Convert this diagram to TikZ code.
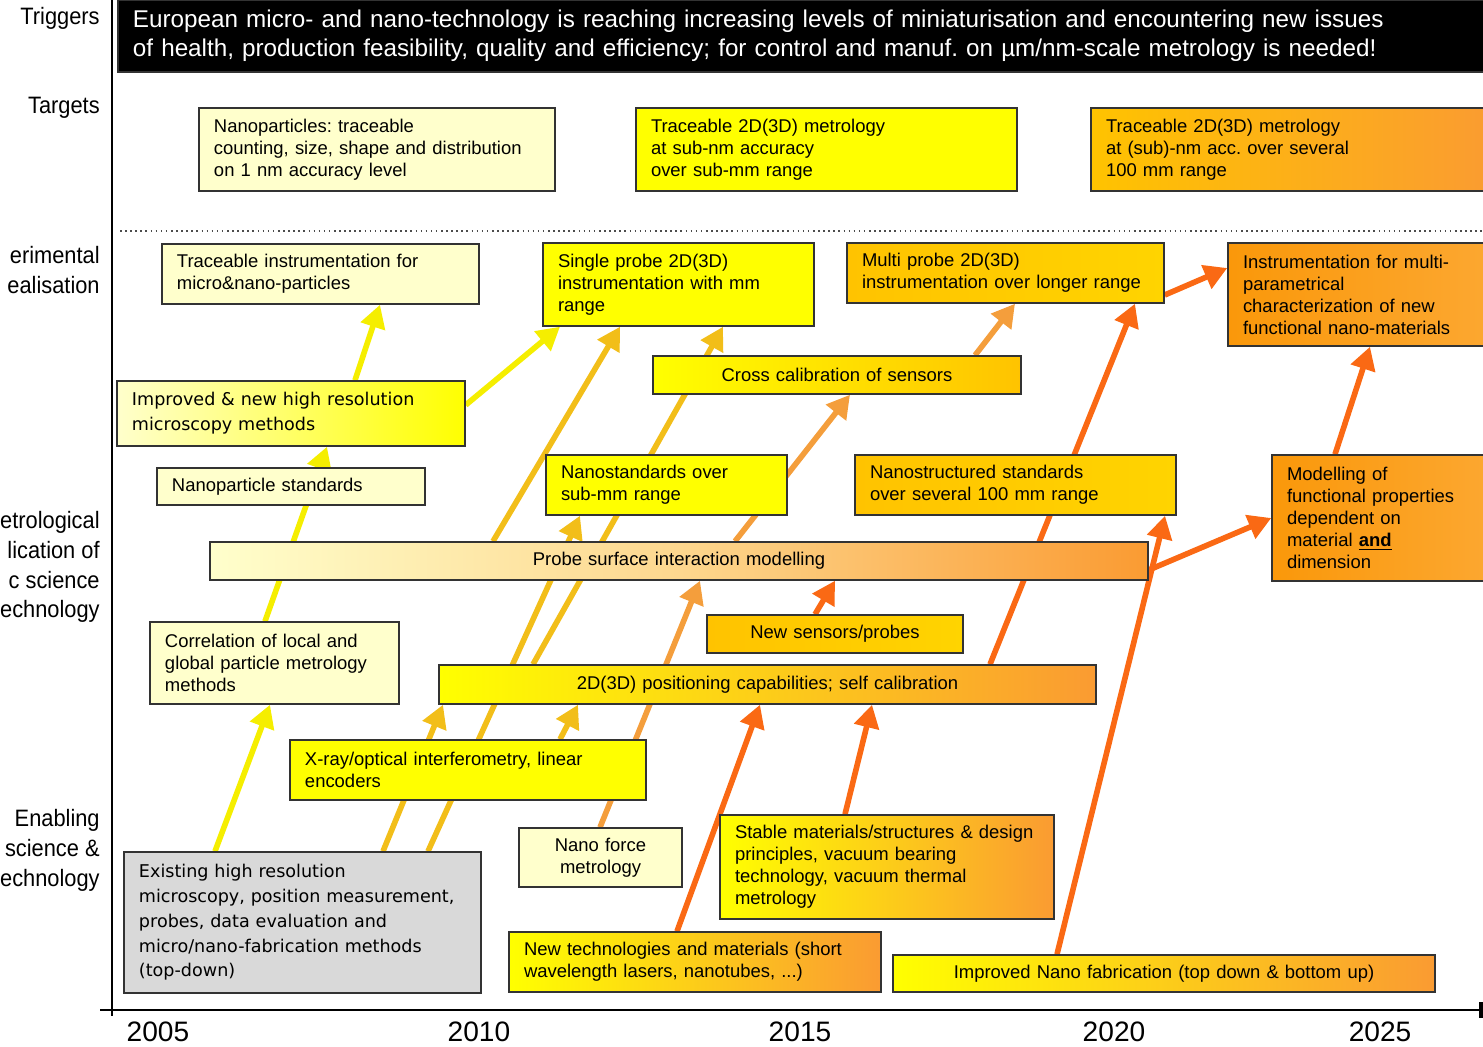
\documentclass[tikz,border=0pt]{standalone}
\usepackage{fontspec}
\setmainfont{Liberation Sans}
\newfontfamily\verdfont{DejaVu Sans}
\newfontfamily\narrowfont{Liberation Sans}[FakeStretch=0.92]
\frenchspacing
\usetikzlibrary{arrows.meta}
\definecolor{pale}{RGB}{255,255,204}
\definecolor{yel}{RGB}{255,255,0}
\definecolor{gold}{RGB}{255,195,0}
\definecolor{goldlt}{RGB}{255,212,0}
\definecolor{orng}{RGB}{250,155,50}
\definecolor{deep}{RGB}{250,152,10}
\definecolor{deeplt}{RGB}{252,168,50}
\definecolor{greybox}{RGB}{217,217,217}
\definecolor{ayel}{RGB}{245,238,0}
\definecolor{agold}{RGB}{242,190,25}
\definecolor{alor}{RGB}{244,158,60}
\definecolor{ador}{RGB}{250,105,20}
\pgfdeclarelayer{bg}
\pgfsetlayers{bg,main}
\tikzset{box/.style={draw=black!80,line width=0.8pt,inner xsep=0.3cm,inner ysep=0pt,align=left,
	   font=\fontsize{10.5}{12.5}\selectfont},
	 verd/.style={font=\verdfont\fontsize{10}{14.1}\selectfont},
	 lbl/.style={anchor=east,align=right,inner sep=0pt,font=\narrowfont\fontsize{13.5}{17}\selectfont},
	 yr/.style={font=\fontsize{16}{19}\selectfont},
	 arr/.style={line width=3.2pt,-{Triangle[length=13pt,width=14pt]}}
	 }
% box from (x1,y1) to (x2,y2), in pixels
\newcommand{\tlbox}[7][]{%
  \pgfmathsetmacro\tlw{(#5-#3)*0.02}%
  \pgfmathsetmacro\tlh{(#6-#4)*0.02}%
  \pgfmathsetmacro\tlt{\tlw-0.6}%
  \node[box,#1,minimum width=\tlw cm,minimum height=\tlh cm,text width=\tlt cm]
    (#2) at ({(#3+#5)/2},{(#4+#6)/2}) {#7};}

\begin{document}
\begin{tikzpicture}[x=0.02cm,y=-0.02cm]
	\useasboundingbox (0,0) rectangle (1483,1047);
	% axes
	\draw[line width=1pt] (112,0) -- (112,1016);
	\draw[line width=1.2pt] (100,1010) -- (1483,1010);
	\draw[line width=2pt] (1481,1002) -- (1481,1018);
	\draw[dotted,line width=0.9pt,black!70] (120,231) -- (1483,231);
	% row labels
	\node[lbl] (ltrig) at (100,18) {Triggers};
	\node[lbl] (ltarg) at (100,108) {Targets};
	\node[lbl] (lexp) at (100,270) {erimental\\ealisation};
	\node[lbl] (lmet) at (100,567) {etrological\\lication of\\c science\\echnology};
	\node[lbl] (lena) at (100,850) {Enabling\\science \&\\echnology};
	\foreach \xx/\yy in {158/2005,479/2010,800/2015,1114/2020,1380/2025}
	  \node[yr] (y\yy) at (\xx,1032) {\yy};
	% triggers and targets
	\tlbox[fill=black,text=white,font=\fontsize{13.8}{16.5}\selectfont]{trig}{118}{0}{1495}{72}{European micro- and nano-technology is reaching increasing levels of miniaturisation and encountering new issues\\of health, production feasibility, quality and efficiency; for control and manuf. on µm/nm-scale metrology is needed!}
	\tlbox[fill=pale]{tnano}{199}{108}{555}{191}{Nanoparticles: traceable\\counting, size, shape and distribution\\on 1 nm accuracy level}
	\tlbox[fill=yel]{tsub}{636}{108}{1017}{191}{Traceable 2D(3D) metrology\\at sub-nm accuracy\\over sub-mm range}
	\tlbox[left color=gold,right color=orng]{tlong}{1091}{108}{1500}{191}{Traceable 2D(3D) metrology\\at (sub)-nm acc. over several\\100 mm range}
	% experimental realisation
	\tlbox[fill=pale]{ipart}{162}{244}{479}{304}{Traceable instrumentation for\\micro\&nano-particles}
	\tlbox[fill=yel]{isingle}{543}{243}{814}{326}{Single probe 2D(3D)\\instrumentation with mm\\range}
	\tlbox[left color=gold,right color=goldlt]{imulti}{847}{243}{1164}{303}{Multi probe 2D(3D)\\instrumentation over longer range}
	\tlbox[left color=deep,right color=deeplt]{iparam}{1228}{243}{1500}{346}{Instrumentation for multi-\\parametrical\\characterization of new\\functional nano-materials}
	% metrological application
	\tlbox[left color=yel,right color=gold,align=center]{ccal}{653}{356}{1021}{394}{Cross calibration of sensors}
	\tlbox[left color=pale,right color=yel,verd]{micro}{117}{381}{465}{446}{Improved \& new high resolution\\microscopy methods}
	\tlbox[fill=pale]{npstd}{157}{468}{425}{505}{Nanoparticle standards}
	\tlbox[fill=yel]{nstd}{546}{455}{787}{515}{Nanostandards over\\sub-mm range}
	\tlbox[left color=gold,right color=goldlt]{nstruct}{855}{455}{1176}{515}{Nanostructured standards\\over several 100 mm range}
	\tlbox[left color=deep,right color=deeplt]{modfun}{1272}{455}{1500}{581}{Modelling of\\functional properties\\dependent on\\material \underline{\textbf{and}}\\dimension}
	\tlbox[left color=pale,right color=orng,middle color=pale!60!orng,align=center]{probe}{210}{542}{1148}{580}{Probe surface interaction modelling}
	\tlbox[fill=pale]{corr}{150}{622}{399}{704}{Correlation of local and\\global particle metrology\\methods}
	\tlbox[left color=gold,right color=goldlt,align=center]{sensors}{707}{615}{963}{653}{New sensors/probes}
	\tlbox[left color=yel,right color=orng,align=center]{posn}{439}{665}{1096}{704}{2D(3D) positioning capabilities; self calibration}
	% enabling science and technology
	\tlbox[fill=yel]{xray}{290}{740}{646}{800}{X-ray/optical interferometry, linear\\encoders}
	\tlbox[fill=greybox,verd]{exist}{124}{852}{481}{993}{Existing high resolution\\microscopy, position measurement,\\probes, data evaluation and\\micro/nano-fabrication methods\\(top-down)}
	\tlbox[fill=pale,align=center]{nforce}{519}{828}{682}{887}{Nano force\\metrology}
	\tlbox[left color=yel,right color=orng]{stable}{720}{815}{1054}{919}{Stable materials/structures \& design\\principles, vacuum bearing\\technology, vacuum thermal\\metrology}
	\tlbox[left color=yel,right color=orng]{newtech}{509}{932}{881}{992}{New technologies and materials (short\\wavelength lasers, nanotubes, ...)}
	\tlbox[left color=yel,right color=orng,align=center]{nanofab}{893}{955}{1435}{992}{Improved Nano fabrication (top down \& bottom up)}
	% arrows behind the boxes
	\begin{pgfonlayer}{bg}
	\draw[arr,ayel] (exist.north -| 215,0) -- (corr.south -| 270,0);
	\draw[arr,ayel] (corr.north -| 265,0) -- (micro.south -| 327,0);
	\draw[arr,ayel] (micro.north -| 355,0) -- (ipart.south -| 380,0);
	\draw[arr,ayel] (micro.east |- 0,405) -- (isingle.south -| 560,0);
	\draw[arr,agold] (exist.north -| 383,0) -- (posn.south -| 443,0);
	\draw[arr,agold] (exist.north -| 428,0) -- (nstd.south -| 580,0);
	\draw[arr,agold] (xray.north -| 560,0) -- (posn.south -| 578,0);
	\draw[arr,agold] (posn.north -| 533,0) -- (isingle.south -| 723,0);
	\draw[arr,agold] (probe.north -| 493,0) -- (isingle.south -| 620,0);
	\draw[arr,alor] (nforce.north -| 600,0) -- (probe.south -| 700,0);
	\draw[arr,alor] (probe.north -| 735,0) -- (ccal.south -| 850,0);
	\draw[arr,alor] (ccal.north -| 975,0) -- (imulti.south -| 1015,0);
	\draw[arr,ador] (sensors.north -| 815,0) -- (probe.south -| 835,0);
	\draw[arr,ador] (newtech.north -| 677,0) -- (posn.south -| 760,0);
	\draw[arr,ador] (stable.north -| 845,0) -- (posn.south -| 872,0);
	\draw[arr,ador] (nanofab.north -| 1057,0) -- (nstruct.south -| 1165,0);
	\draw[arr,ador] (probe.east |- 0,570) -- (modfun.west |- 0,518);
	\draw[arr,ador] (posn.north -| 990,0) -- (imulti.south -| 1135,0);
	\draw[arr,ador] (imulti.east |- 0,295) -- (iparam.west |- 0,268);
	\draw[arr,ador] (modfun.north -| 1335,0) -- (iparam.south -| 1370,0);
	\end{pgfonlayer}
\end{tikzpicture}
\end{document}
